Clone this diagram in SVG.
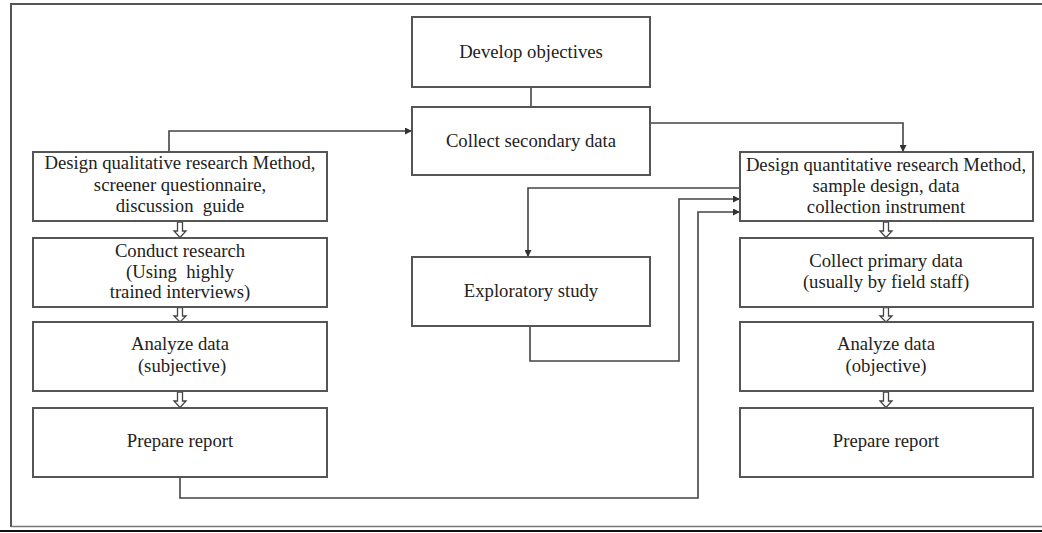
<svg xmlns="http://www.w3.org/2000/svg" width="1042" height="533" viewBox="0 0 1042 533">
<defs>
<style>
.box{fill:#fff;stroke:#555;stroke-width:2}
.t{font-family:"Liberation Serif","Times New Roman",serif;font-size:18.7px;fill:#222;text-anchor:middle;white-space:pre}
.c{fill:none;stroke:#444;stroke-width:1.6}
.h{fill:#fff;stroke:#444;stroke-width:1.3}
</style>
<marker id="ah" viewBox="0 0 10 10" refX="10" refY="5" markerWidth="9" markerHeight="7" markerUnits="userSpaceOnUse" orient="auto">
<path d="M0,0 L10,5 L0,10 Z" fill="#333"/>
</marker>
</defs>
<rect x="0" y="0" width="1042" height="533" fill="#fff"/>
<path d="M11,527 L11,4 L1042,4" fill="none" stroke="#555" stroke-width="2"/>
<line x1="11" y1="526.5" x2="1042" y2="526.5" stroke="#777" stroke-width="1.5"/>
<line x1="0" y1="531" x2="1042" y2="531" stroke="#111" stroke-width="2"/>

<g id="connectors">
<path class="c" d="M531,87 V107"/>
<path class="c" d="M169,152 V131 H412" marker-end="url(#ah)"/>
<path class="c" d="M650,123 H903 V152" marker-end="url(#ah)"/>
<path class="c" d="M740,188 H528 V257" marker-end="url(#ah)"/>
<path class="c" d="M530,326 V361 H679 V199 H740" marker-end="url(#ah)"/>
<path class="c" d="M180,477 V498 H698 V212 H740" marker-end="url(#ah)"/>
<path class="h" d="M177.5,222 V231 H174 L180,237.5 L186,231 H182.5 V222 Z"/>
<path class="h" d="M177.5,307.5 V316 H174 L180,322 L186,316 H182.5 V307.5 Z"/>
<path class="h" d="M177.5,392 V401 H174 L180,407.5 L186,401 H182.5 V392 Z"/>
<path class="h" d="M883.5,222 V231 H880 L886,237.5 L892,231 H888.5 V222 Z"/>
<path class="h" d="M883.5,307.5 V316 H880 L886,322 L892,316 H888.5 V307.5 Z"/>
<path class="h" d="M883.5,392 V401 H880 L886,407.5 L892,401 H888.5 V392 Z"/>
</g>

<g id="develop-objectives">
<rect class="box" x="412" y="17" width="238" height="70"/>
<text class="t" x="531" y="58">Develop objectives</text>
</g>
<g id="collect-secondary">
<rect class="box" x="412" y="107" width="238" height="68"/>
<text class="t" x="531" y="147">Collect secondary data</text>
</g>
<g id="design-qualitative">
<rect class="box" x="33" y="152" width="294" height="69"/>
<text class="t" x="180" y="169">Design qualitative research Method,</text>
<text class="t" x="180" y="191">screener questionnaire,</text>
<text class="t" x="180" y="212">discussion  guide</text>
</g>
<g id="conduct-research">
<rect class="box" x="33" y="238" width="294" height="69"/>
<text class="t" x="180" y="257">Conduct research</text>
<text class="t" x="180" y="278">(Using  highly</text>
<text class="t" x="180" y="298">trained interviews)</text>
</g>
<g id="analyze-subjective">
<rect class="box" x="33" y="322" width="294" height="69"/>
<text class="t" x="180" y="350">Analyze data</text>
<text class="t" x="182" y="372">(subjective)</text>
</g>
<g id="prepare-report-left">
<rect class="box" x="33" y="408" width="294" height="69"/>
<text class="t" x="180" y="447">Prepare report</text>
</g>
<g id="exploratory-study">
<rect class="box" x="412" y="257" width="238" height="69"/>
<text class="t" x="531" y="297">Exploratory study</text>
</g>
<g id="design-quantitative">
<rect class="box" x="740" y="152" width="293" height="69"/>
<text class="t" x="886" y="171">Design quantitative research Method,</text>
<text class="t" x="886" y="192">sample design, data</text>
<text class="t" x="886" y="213">collection instrument</text>
</g>
<g id="collect-primary">
<rect class="box" x="740" y="238" width="293" height="69"/>
<text class="t" x="886" y="267">Collect primary data</text>
<text class="t" x="886" y="288">(usually by field staff)</text>
</g>
<g id="analyze-objective">
<rect class="box" x="740" y="322" width="293" height="69"/>
<text class="t" x="886" y="350">Analyze data</text>
<text class="t" x="886" y="372">(objective)</text>
</g>
<g id="prepare-report-right">
<rect class="box" x="740" y="408" width="293" height="69"/>
<text class="t" x="886" y="447">Prepare report</text>
</g>
</svg>
